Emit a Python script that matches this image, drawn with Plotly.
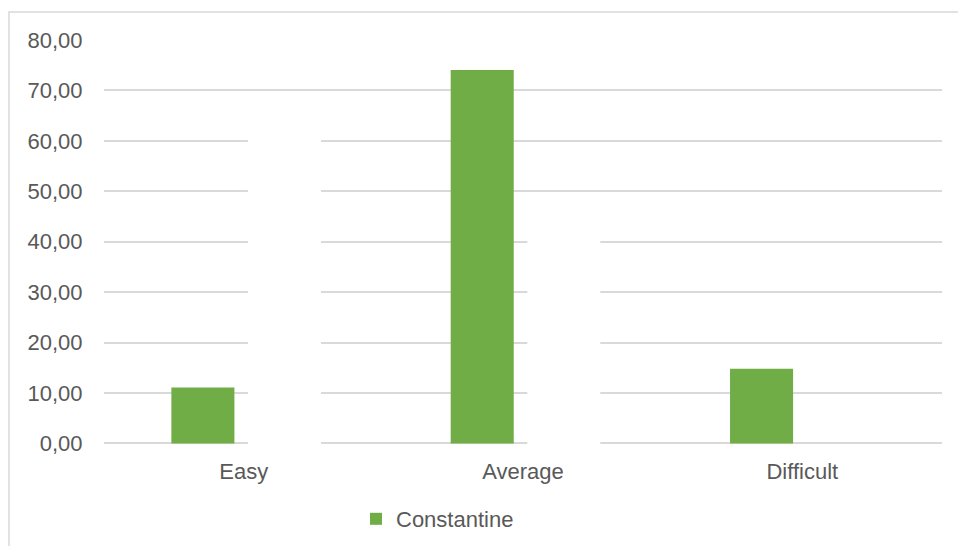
import plotly.graph_objects as go

# Difficulty categories and the share (%) of responses per category
categories = ["Easy", "Average", "Difficult"]
constantine = [11.11, 74.07, 14.81]

# Second series of the workbook, formatted with a white fill (not in the legend)
hidden_series = [65.0, 45.0, None]

y_ticks = [0, 10, 20, 30, 40, 50, 60, 70, 80]

W, H = 958, 546
M_L, M_R, M_T, M_B = 104, 16, 40, 101
FONT = "Liberation Sans, Arial, sans-serif"
TEXT_COLOR = "#595959"
GRID_COLOR = "#d9d9d9"
FS = 22

fig = go.Figure()
fig.add_trace(go.Bar(
    x=categories, y=constantine, name="Constantine",
    marker=dict(color="#70ad47", line=dict(width=0)),
))
fig.add_trace(go.Bar(
    x=categories, y=hidden_series, name="", showlegend=False,
    marker=dict(color="#ffffff", line=dict(color="#ffffff", width=10)),
    hoverinfo="skip",
))

plot_w = W - M_L - M_R
plot_h = H - M_T - M_B

fig.update_layout(
    width=W, height=H,
    margin=dict(l=M_L, r=M_R, t=M_T, b=M_B, autoexpand=False),
    paper_bgcolor="white", plot_bgcolor="white",
    barmode="group", bargap=0.416, bargroupgap=0.227,
    separators=",.",
    font=dict(family=FONT, size=FS, color=TEXT_COLOR),
    showlegend=True,
    legend=dict(
        orientation="h",
        xref="container", yref="container",
        x=356 / W, xanchor="left",
        y=1 - 519 / H, yanchor="middle",
        font=dict(family=FONT, size=FS, color=TEXT_COLOR),
        bgcolor="rgba(0,0,0,0)",
    ),
    xaxis=dict(
        showgrid=False, showline=False, zeroline=False,
        ticks="outside", ticklen=7, tickcolor="rgba(0,0,0,0)",
        tickfont=dict(family=FONT, size=FS, color=TEXT_COLOR),
    ),
    yaxis=dict(
        range=[-0.3, 80], tickvals=y_ticks, tickformat=".2f",
        showgrid=True, gridcolor=GRID_COLOR, gridwidth=1.5,
        zeroline=False, showline=False,
        ticks="outside", ticklen=16, tickcolor="rgba(0,0,0,0)",
        tickfont=dict(family=FONT, size=FS, color=TEXT_COLOR),
    ),
    shapes=[dict(
        type="rect", xref="paper", yref="paper",
        x0=(9 - M_L) / plot_w, x1=(W + 20 - M_L) / plot_w,
        y0=-(H + 20 - (H - M_B)) / plot_h, y1=((H - M_B) - 12) / plot_h,
        line=dict(color=GRID_COLOR, width=1.5),
        fillcolor="rgba(0,0,0,0)", layer="below",
    )],
)

fig.write_html("out.html")
